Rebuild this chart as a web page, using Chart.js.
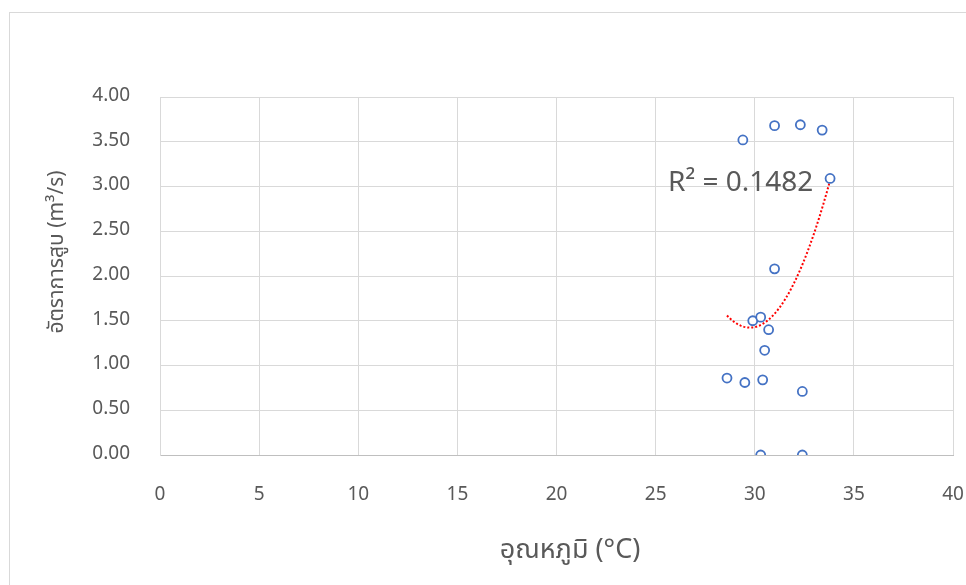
<!DOCTYPE html>
<html>
<head>
<meta charset="utf-8">
<script src="https://cdn.jsdelivr.net/npm/chart.js@4"></script>
<style>
  html, body { margin: 0; background: #fff; overflow: hidden; width: 966px; height: 585px; }
  #frame { position: absolute; left: 9px; top: 12px; width: 1000px; height: 620px; border: 1px solid #d9d9d9; }
  #wrap { position: absolute; left: 0; top: 0; width: 966px; height: 585px; }
</style>
</head>
<body>
<div id="frame"></div>
<div id="wrap"><canvas id="chart"></canvas></div>
<script>
// temperature (C) vs pumping rate (m3/s)
const temps = [29.4, 31.0, 32.3, 33.4, 33.8, 31.0, 29.9, 30.3, 30.7, 30.5, 28.6, 29.5, 30.4, 32.4, 30.3, 32.4];
const rates = [3.52, 3.68, 3.69, 3.63, 3.09, 2.08, 1.50, 1.54, 1.40, 1.17, 0.86, 0.81, 0.84, 0.71, 0.00, 0.00];
const xTitle = "อุณหภูมิ (°C)";
const yTitle = "อัตราการสูบ (m³/s)";
const r2Label = "R² = 0.1482";

const FONT = "'Noto Sans Thai', 'Leelawadee UI', 'Noto Sans', sans-serif";
const GREY = "#595959";

// order-2 polynomial trendline, least squares on the points above
function polyFit(xs, ys) {
  const S = [0, 0, 0, 0, 0], T = [0, 0, 0];
  xs.forEach((x, i) => {
    for (let k = 0; k < 5; k++) S[k] += Math.pow(x, k);
    for (let k = 0; k < 3; k++) T[k] += Math.pow(x, k) * ys[i];
  });
  const m = [[S[0], S[1], S[2], T[0]], [S[1], S[2], S[3], T[1]], [S[2], S[3], S[4], T[2]]];
  for (let i = 0; i < 3; i++) {
    for (let j = i + 1; j < 3; j++) {
      const f = m[j][i] / m[i][i];
      for (let k = i; k < 4; k++) m[j][k] -= f * m[i][k];
    }
  }
  const c = [0, 0, 0];
  for (let i = 2; i >= 0; i--) {
    let s = m[i][3];
    for (let k = i + 1; k < 3; k++) s -= m[i][k] * c[k];
    c[i] = s / m[i][i];
  }
  return c;
}

const coef = polyFit(temps, rates);
const xMin = Math.min(...temps), xMax = Math.max(...temps);
const trend = [];
for (let i = 0; i <= 60; i++) {
  const x = xMin + (xMax - xMin) * i / 60;
  trend.push({ x: x, y: coef[0] + coef[1] * x + coef[2] * x * x });
}

const axisTitles = {
  id: "axisTitles",
  afterDraw(chart) {
    const ctx = chart.ctx;
    ctx.save();
    ctx.fillStyle = GREY;
    ctx.textAlign = "center";
    ctx.textBaseline = "middle";
    ctx.font = "27px " + FONT;
    ctx.fillText(xTitle, 570, 553);
    ctx.translate(59, 252);
    ctx.rotate(-Math.PI / 2);
    ctx.font = "21px " + FONT;
    ctx.fillText(yTitle, 0, 0);
    ctx.restore();

    ctx.save();
    ctx.fillStyle = GREY;
    ctx.font = "28px " + FONT;
    ctx.textAlign = "left";
    ctx.textBaseline = "alphabetic";
    ctx.fillText(r2Label, 668, 191);
    ctx.restore();
  }
};

new Chart(document.getElementById("chart"), {
  type: "scatter",
  data: {
    datasets: [
      {
        data: temps.map((t, i) => ({ x: t, y: rates[i] })),
        pointRadius: 4.5,
        pointBorderWidth: 1.8,
        pointBorderColor: "#4472C4",
        pointBackgroundColor: "#ffffff",
        showLine: false,
        order: 1
      },
      {
        data: trend,
        showLine: true,
        pointRadius: 0,
        borderColor: "#FF0000",
        borderWidth: 2,
        borderDash: [2, 2],
        order: 2
      }
    ]
  },
  options: {
    responsive: true,
    maintainAspectRatio: false,
    animation: false,
    layout: { padding: { top: 97, right: 13, left: 0, bottom: 0 } },
    plugins: { legend: { display: false }, tooltip: { enabled: false } },
    scales: {
      x: {
        min: 0, max: 40,
        ticks: { stepSize: 5, padding: 30, color: GREY, font: { family: FONT, size: 19 } },
        grid: { color: "#d9d9d9", drawTicks: false },
        border: { color: "#bfbfbf" },
        afterFit: (s) => { s.height = 130; s.paddingLeft = 0; s.paddingRight = 0; }
      },
      y: {
        min: 0, max: 4,
        ticks: { stepSize: 0.5, padding: 30, color: GREY, font: { family: FONT, size: 19 },
                 callback: (v) => v.toFixed(2) },
        grid: { color: "#d9d9d9", drawTicks: false },
        border: { color: "#d9d9d9" },
        afterFit: (s) => { s.width = 160; }
      }
    }
  },
  plugins: [axisTitles]
});
</script>
</body>
</html>
